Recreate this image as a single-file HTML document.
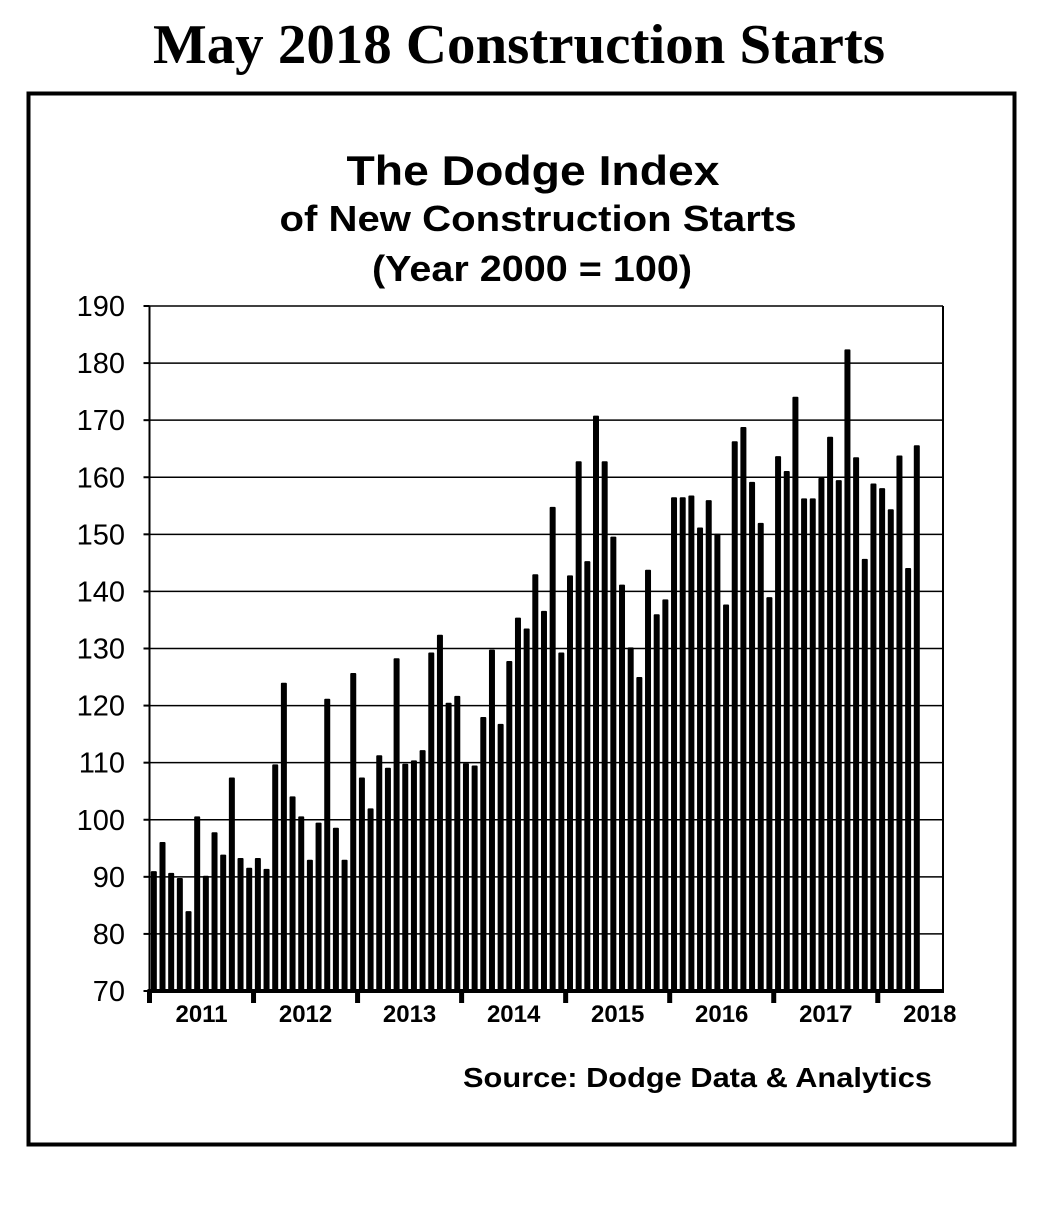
<!DOCTYPE html>
<html><head><meta charset="utf-8">
<style>
body{margin:0;background:#fff;width:1041px;height:1200px;overflow:hidden;}
svg text{font-family:"Liberation Sans",Arial,sans-serif;}
</style></head>
<body>
<svg width="1041" height="1200" viewBox="0 0 1041 1200">
<text x="519" y="63" text-anchor="middle" textLength="732" lengthAdjust="spacingAndGlyphs" style="font-family:'Liberation Serif',serif;font-weight:bold;font-size:56px">May 2018 Construction Starts</text>
<rect x="28.5" y="93.5" width="986" height="1051" fill="none" stroke="#000" stroke-width="4"/>
<text x="533" y="185" text-anchor="middle" textLength="373" lengthAdjust="spacingAndGlyphs" font-weight="bold" font-size="42">The Dodge Index</text>
<text x="538" y="231" text-anchor="middle" textLength="517" lengthAdjust="spacingAndGlyphs" font-weight="bold" font-size="36">of New Construction Starts</text>
<text x="532" y="281" text-anchor="middle" textLength="320" lengthAdjust="spacingAndGlyphs" font-weight="bold" font-size="36">(Year 2000 = 100)</text>
<g id="grid"></g>
<g id="bars"></g>
<g id="axes"></g>
<text x="932" y="1087" text-anchor="end" textLength="469" lengthAdjust="spacingAndGlyphs" font-weight="bold" font-size="28">Source:  Dodge Data &amp; Analytics</text>
</svg>
<script>
const years = ["2011","2012","2013","2014","2015","2016","2017","2018"];
const yTicks = [70,80,90,100,110,120,130,140,150,160,170,180,190];
const v2011 = [91.0,96.1,90.7,89.8,84.0,100.6,90.2,97.8,93.9,107.4,93.3,91.6];
const v2012 = [93.3,91.4,109.7,124.0,104.1,100.6,93.0,99.5,121.2,98.6,93.0,125.7];
const v2013 = [107.4,102.0,111.3,109.1,128.3,109.8,110.4,112.2,129.3,132.4,120.5,121.7];
const v2014 = [109.9,109.5,118.0,129.8,116.8,127.8,135.4,133.5,143.0,136.6,154.8,129.3];
const v2015 = [142.8,162.8,145.3,170.8,162.8,149.6,141.2,130.2,125.0,143.8,136.0,138.6];
const v2016 = [156.5,156.5,156.8,151.2,156.0,150.1,137.7,166.3,168.8,159.2,152.0,139.0];
const v2017 = [163.7,161.1,174.1,156.3,156.3,159.9,167.1,159.5,182.4,163.5,145.7,158.9];
const v2018 = [158.1,154.4,163.8,144.1,165.6];
const values = [].concat(v2011,v2012,v2013,v2014,v2015,v2016,v2017,v2018);

const NS="http://www.w3.org/2000/svg";
const X0=149.5, X1=943, Y0=991, Y1=306, step=8.67;
const yMin=70,yMax=190;
function yS(v){return Y0-(v-yMin)/(yMax-yMin)*(Y0-Y1);}
function xS(i){return X0+step*(i+0.5);}
function mk(tag,attrs,parent){const e=document.createElementNS(NS,tag);for(const k in attrs)e.setAttribute(k,attrs[k]);parent.appendChild(e);return e;}
const grid=document.getElementById('grid'),bars=document.getElementById('bars'),axes=document.getElementById('axes');
yTicks.forEach(t=>{
  const y=yS(t);
  if(t>yMin){const l=mk('line',{x1:X0,x2:X1,y1:y,y2:y,stroke:'#000','stroke-width':1.5},grid);
  
  }
  const tk=mk('line',{x1:X0-6,x2:X0,y1:y,y2:y,stroke:'#000','stroke-width':2},axes);
  
  
  const tx=mk('text',{x:125,y:y+10,'text-anchor':'end','font-size':29},axes);
  tx.textContent=t;
  
  
});
values.forEach((v,i)=>{
  const y=yS(v);
  const r=mk('rect',{x:xS(i)-3,y:y,width:6,height:Y0-y,fill:'#000',rx:1},bars);
  
  
});
let l=mk('line',{x1:X0,x2:X0,y1:Y1,y2:Y0,stroke:'#000','stroke-width':2},axes);


l=mk('line',{x1:X1,x2:X1,y1:Y1,y2:Y0,stroke:'#000','stroke-width':2},axes);


l=mk('line',{x1:X0-2,x2:X1+1,y1:Y0,y2:Y0,stroke:'#000','stroke-width':4},axes);


years.forEach((yr,k)=>{
  const bx=X0+k*12*step;
  const t=mk('rect',{x:bx-2.5,y:Y0,width:5,height:12,fill:'#000'},axes);
  
  
  const tx=mk('text',{x:bx+6*step,y:1022,'text-anchor':'middle','font-size':24,'font-weight':'bold'},axes);
  tx.textContent=yr;
  
  
});
</script>
</body></html>
